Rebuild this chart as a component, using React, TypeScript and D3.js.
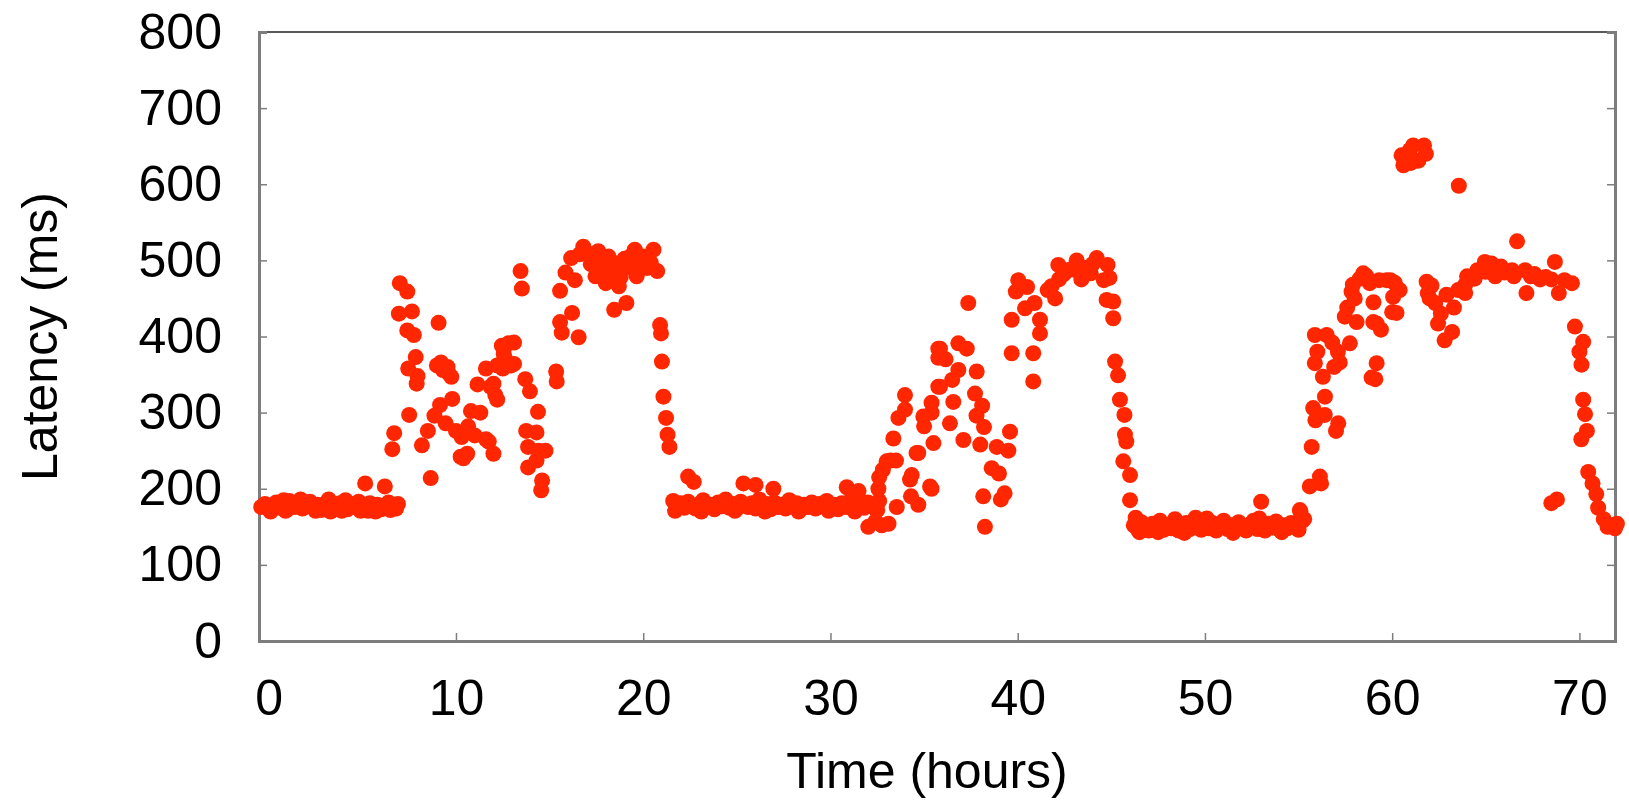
import * as d3 from 'd3';
import React, { useRef, useEffect } from 'react';

type Pt = [number, number]; // [hours, latency ms]

// quiet period before the first peak
const quietDay1: Pt[] = [
  [-0.4, 176], [-0.2, 180], [0, 174], [0.2, 178], [0.4, 182], [0.6, 175], [0.8, 185], [1.0, 173],
  [1.2, 179], [1.4, 176], [1.6, 181], [1.8, 174], [2.0, 177], [2.2, 183], [2.4, 175], [2.6, 179],
  [2.8, 172], [3.0, 180], [3.2, 186], [3.4, 176], [3.6, 174], [3.8, 181], [4.0, 177], [4.2, 173],
  [4.4, 180], [4.6, 176], [4.8, 183], [5.0, 174], [5.2, 178], [5.4, 181], [5.6, 175], [5.8, 179],
  [6.0, 173], [6.2, 177], [6.4, 182], [6.6, 176], [6.8, 174], [6.9, 180],
  [0.1, 170], [0.9, 171], [1.7, 186], [2.5, 171], [3.3, 170], [4.1, 185], [4.9, 171], [5.7, 170],
  [6.5, 172], [1.1, 184], [3.9, 171], [5.3, 171], [5.15, 207], [6.2, 203],
];

const peakDay1: Pt[] = [
  [6.6, 252], [6.7, 273], [7.0, 470], [7.4, 459], [6.95, 430], [7.65, 433], [7.4, 408], [7.75, 402],
  [9.07, 418], [7.85, 373], [7.45, 358], [7.95, 348], [7.9, 338], [8.98, 362], [9.3, 356], [9.55, 360],
  [9.75, 347], [9.2, 366], [9.6, 352], [7.5, 297], [8.65, 214], [8.18, 257], [8.5, 276], [8.85, 296],
  [9.15, 310], [9.8, 318], [9.45, 286], [10.0, 276], [10.25, 242], [10.6, 246], [10.8, 302], [10.65, 282],
  [11.0, 270], [11.6, 265], [12.0, 246], [11.75, 262], [11.15, 337], [11.6, 358], [12.1, 323], [12.0, 338],
  [12.2, 362], [12.55, 377], [12.8, 391], [13.1, 392], [12.45, 388], [13.1, 364], [12.6, 372], [12.5, 358],
  [12.95, 362], [11.85, 334], [12.2, 317], [11.3, 300], [13.7, 344], [13.95, 328], [14.38, 301], [13.75, 276],
  [14.3, 274], [13.85, 255], [14.4, 250], [14.78, 250], [14.3, 237], [13.85, 228], [14.6, 211], [14.55, 198],
  [13.45, 486], [13.52, 463], [15.35, 354], [15.38, 341], [15.56, 419], [15.65, 405], [16.2, 431], [16.55, 399],
  [15.56, 460], [15.85, 484], [16.15, 503], [16.8, 518], [16.35, 474], [17.35, 507], [17.65, 495], [17.45, 479],
  [18.0, 470], [18.45, 435], [19.1, 444], [18.55, 496], [18.95, 490], [19.55, 514], [19.3, 505], [19.65, 479],
  [20.2, 490], [20.55, 514], [20.75, 486], [18.2, 482], [18.7, 466], [17.0, 510], [17.2, 495], [17.8, 488],
  [17.9, 500], [18.3, 497], [18.8, 478], [19.0, 502], [19.85, 495], [20.0, 505], [16.6, 508], [17.6, 512],
  [18.15, 505], [19.4, 490], [20.4, 497], [20.9, 415], [20.95, 404], [21.0, 367], [21.08, 321], [21.22, 293],
  [21.3, 271], [21.4, 255], [10.3, 268], [10.4, 240],
];

const quietNight1: Pt[] = [
  [21.6, 184], [21.8, 177], [22.0, 181], [22.2, 175], [22.4, 183], [22.6, 178], [22.8, 174], [23.0, 180],
  [23.2, 185], [23.4, 176], [23.6, 179], [23.8, 173], [24.0, 182], [24.2, 177], [24.4, 186], [24.6, 175],
  [24.8, 180], [25.0, 174], [25.2, 183], [25.4, 178], [25.6, 176], [25.8, 181], [26.0, 174], [26.2, 186],
  [26.4, 177], [26.6, 180], [26.8, 173], [27.0, 182], [27.2, 176], [27.4, 179], [27.6, 174], [27.8, 185],
  [28.0, 177], [28.2, 181], [28.4, 173], [28.6, 179], [28.8, 176], [29.0, 182], [29.2, 174], [29.4, 180],
  [29.6, 177], [29.8, 184], [30.0, 175], [30.2, 179], [30.4, 173], [30.6, 181], [30.8, 176], [31.0, 183],
  [31.2, 174], [31.4, 178], [31.6, 180], [31.8, 175], [32.0, 182], [32.2, 177], [32.4, 174],
  [21.7, 171], [23.1, 170], [24.9, 171], [26.5, 170], [28.3, 170], [29.9, 171], [31.3, 170], [32.5, 172],
  [32.6, 184], [22.4, 216], [22.7, 209], [25.35, 207], [26.0, 205], [26.95, 200], [30.87, 202], [31.5, 197],
];

const peakDay2: Pt[] = [
  [32.56, 200], [32.8, 225], [33.0, 236], [33.2, 237], [32.02, 150], [32.74, 152], [33.1, 154], [32.4, 157],
  [33.54, 176], [34.34, 218], [34.69, 179], [34.3, 190], [35.32, 203], [33.36, 266], [33.63, 293], [33.98, 323],
  [33.98, 304], [34.69, 247], [34.96, 295], [35.0, 282], [35.5, 260], [35.76, 334], [35.76, 384], [35.4, 313],
  [35.76, 372], [35.85, 384], [36.83, 391], [37.28, 384], [36.15, 370], [36.83, 356], [36.5, 343], [35.85, 334],
  [37.81, 354], [36.56, 314], [35.4, 300], [37.72, 325], [38.1, 309], [36.38, 286], [37.8, 296], [38.2, 281],
  [37.1, 264], [38.0, 258], [38.88, 255], [39.59, 275], [39.5, 250], [38.61, 227], [39.0, 220], [38.16, 190],
  [39.1, 186], [39.3, 194], [35.4, 200], [38.25, 150], [37.36, 444], [39.68, 422], [39.68, 378], [40.83, 378],
  [40.83, 341], [40.03, 474], [39.9, 459], [40.5, 465], [40.39, 437], [40.9, 444], [41.19, 422], [41.19, 404],
  [41.81, 466], [42.0, 450], [42.17, 494], [42.2, 475], [43.15, 500], [43.4, 475], [44.22, 503], [44.8, 494],
  [43.9, 483], [44.6, 474], [44.75, 448], [45.1, 446], [45.1, 424], [45.2, 367], [45.36, 349], [45.46, 317],
  [45.7, 297], [45.73, 271], [45.8, 262], [45.64, 236], [46.0, 218], [46.0, 185], [42.5, 483], [43.6, 490],
  [42.8, 488], [44.0, 495], [41.6, 461], [42.4, 481], [43.2, 486], [44.9, 477], [32.6, 215], [33.5, 237],
  [34.25, 212], [34.6, 247],
];

const quietNight2: Pt[] = [
  [46.2, 152], [46.4, 147], [46.6, 156], [46.8, 150], [47.0, 145], [47.2, 154], [47.4, 149], [47.6, 158],
  [47.8, 146], [48.0, 152], [48.2, 148], [48.4, 160], [48.6, 145], [48.8, 151], [49.0, 155], [49.2, 147],
  [49.4, 150], [49.6, 157], [49.8, 146], [50.0, 153], [50.2, 148], [50.4, 155], [50.6, 145], [50.8, 151],
  [51.0, 158], [51.2, 147], [51.4, 152], [51.6, 146], [51.8, 156], [52.0, 149], [52.2, 145], [52.4, 153],
  [52.6, 158], [52.8, 147], [53.0, 151], [53.2, 145], [53.4, 154], [53.6, 149], [53.8, 157], [54.0, 146],
  [54.2, 152], [54.4, 148], [54.6, 155], [54.8, 150], [55.0, 146], [55.2, 158],
  [46.3, 162], [47.5, 143], [48.9, 142], [50.1, 161], [51.5, 142], [52.9, 161], [54.1, 143], [53.0, 183],
  [46.5, 143], [49.5, 162], [55.1, 170],
];

const peakDay3: Pt[] = [
  [55.07, 172], [55.3, 160], [55.6, 203], [56.14, 216], [56.2, 207], [55.7, 255], [55.78, 306], [55.9, 290],
  [56.4, 297], [57.12, 286], [57.0, 276], [56.41, 321], [55.87, 365], [56.3, 347], [55.87, 402], [56.5, 402],
  [56.9, 360], [57.2, 366], [57.1, 380], [57.74, 391], [57.47, 426], [57.6, 438], [57.83, 459], [58.27, 476],
  [58.6, 480], [58.1, 419], [59.17, 417], [59.4, 409], [59.17, 365], [59.1, 344], [59.0, 445], [59.3, 474],
  [59.9, 474], [60.0, 432], [58.45, 483], [59.7, 474], [60.1, 471], [60.05, 452], [58.99, 419], [58.9, 346],
  [61.12, 651], [61.7, 651], [60.5, 638], [61.4, 631], [60.6, 625], [61.8, 640], [60.95, 645], [61.0, 628],
  [63.56, 598], [66.67, 525], [60.14, 470], [60.4, 461], [60.23, 431], [61.84, 472], [61.9, 457], [62.3, 444],
  [62.45, 417], [62.8, 395], [63.2, 406], [63.3, 438], [62.9, 455], [63.52, 461], [63.9, 457], [63.9, 468],
  [64.4, 476], [64.55, 487], [64.95, 498], [65.3, 496], [65.5, 479], [65.8, 492], [66.4, 487], [66.5, 479],
  [67.1, 487], [67.17, 457], [67.4, 479], [67.9, 475], [68.69, 498], [68.5, 475], [68.9, 457], [69.2, 474],
  [69.6, 470], [68.5, 181], [68.8, 186], [69.76, 413], [70.2, 393], [70.0, 380], [70.11, 363], [70.2, 317],
  [70.3, 298], [70.4, 276], [70.1, 265], [70.47, 222], [70.7, 207], [70.9, 193], [71.0, 175], [71.3, 160],
  [71.7, 152], [72.0, 154], [71.5, 150], [71.9, 148], [62.1, 467], [62.6, 430], [64.0, 479], [65.0, 485],
  [66.0, 484], [67.6, 482], [68.2, 478], [58.8, 470], [57.9, 468], [58.0, 450], [56.8, 392], [56.0, 380],
  [62.0, 450],
];

const xTicks = [0, 10, 20, 30, 40, 50, 60, 70];
const yTicks = [0, 100, 200, 300, 400, 500, 600, 700, 800];
const xTitle = 'Time (hours)';
const yTitle = 'Latency (ms)';

const width = 1629;
const height = 801;
const margin = { top: 32, right: 14, bottom: 160, left: 259 };
const font = "'Liberation Sans', Arial, Helvetica, sans-serif";

export default function App() {
  const ref = useRef<SVGSVGElement>(null);

  useEffect(() => {
    const svg = d3.select(ref.current);
    svg.selectAll('*').remove();

    const w = width - margin.left - margin.right;
    const h = height - margin.top - margin.bottom;

    const x = d3.scaleLinear().domain([-0.52, 71.9]).range([0, w]);
    const y = d3.scaleLinear().domain([0, 800]).range([h, 0]);

    const g = svg.append('g').attr('transform', `translate(${margin.left},${margin.top})`);

    // top border
    g.append('line')
      .attr('x1', 0).attr('x2', w).attr('y1', 0).attr('y2', 0)
      .attr('stroke', '#222').attr('stroke-width', 1.5);

    const yAxis = g.append('g')
      .call(d3.axisLeft(y).tickValues(yTicks).tickSize(-8).tickPadding(37).tickFormat(d3.format('d')));

    const yAxisRight = g.append('g')
      .attr('transform', `translate(${w},0)`)
      .call(d3.axisRight(y).tickValues(yTicks.slice(1, -1)).tickSize(-8).tickFormat(() => ''));

    const xAxis = g.append('g')
      .attr('transform', `translate(0,${h})`)
      .call(d3.axisBottom(x).tickValues(xTicks).tickSize(-8).tickPadding(38).tickFormat(d3.format('d')));

    [yAxis, yAxisRight, xAxis].forEach((a) => {
      a.select('.domain').attr('stroke', '#7d7d7d').attr('stroke-width', 3);
      a.selectAll('.tick line').attr('stroke', '#7d7d7d').attr('stroke-width', 1.5);
      a.selectAll('.tick text')
        .attr('fill', '#000')
        .style('font-family', font)
        .style('font-size', '50px');
    });
    yAxis.select('.tick:first-of-type line').remove();
    xAxis.select('.tick:first-of-type line').remove();

    g.append('text')
      .attr('transform', `translate(${57 - margin.left},${h / 2}) rotate(-90)`)
      .attr('text-anchor', 'middle')
      .style('font-family', font)
      .style('font-size', '50px')
      .text(yTitle);

    g.append('text')
      .attr('x', 927 - margin.left)
      .attr('y', 788 - margin.top)
      .attr('text-anchor', 'middle')
      .style('font-family', font)
      .style('font-size', '50px')
      .text(xTitle);

    const allPoints = [
      ...quietDay1, ...peakDay1, ...quietNight1, ...peakDay2, ...quietNight2, ...peakDay3,
    ];

    g.append('g')
      .selectAll('circle')
      .data(allPoints)
      .enter()
      .append('circle')
      .attr('cx', (d) => x(d[0]))
      .attr('cy', (d) => y(d[1]))
      .attr('r', 8)
      .attr('fill', '#ff2600');
  }, []);

  return (
    <svg
      ref={ref}
      width={width}
      height={height}
      style={{ position: 'absolute', left: 0, top: 0, background: '#fff' }}
    />
  );
}
